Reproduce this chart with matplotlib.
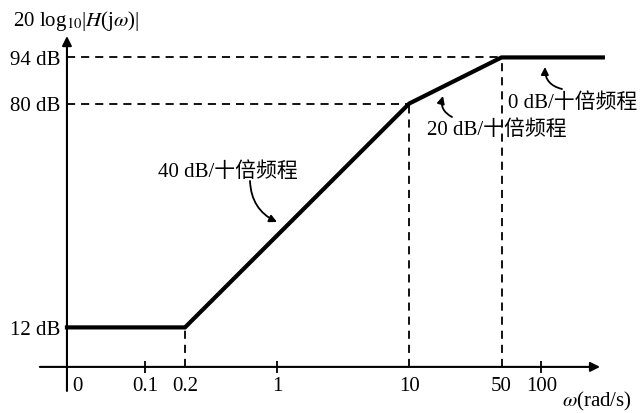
import matplotlib.pyplot as plt

plt.rcParams['font.family'] = ['Liberation Serif', 'Noto Sans CJK SC', 'DejaVu Sans']
plt.rcParams['mathtext.fontset'] = 'stix'

# asymptotic Bode magnitude: corner frequencies (rad/s) and gains (dB)
w_break = [0.2, 10, 50]
gain_db = [12, 80, 94]
x_ticks = [0.1, 0.2, 1, 10, 50, 100]
x_tick_labels = ['0.1', '0.2', '1', '10', '50', '100']
y_marks = [12, 80, 94]
slope_labels = ['40 dB/十倍频程', '20 dB/十倍频程', '0 dB/十倍频程']

W_AXIS = 0.0255   # where the vertical axis sits (labelled "0")
W_END = 293.0
FS = 15

fig = plt.figure(figsize=(6.41, 4.14), dpi=100)
ax = fig.add_axes([0, 0, 1, 1])
ax.set_xscale('log')
ax.set_xlim(0.00793, 570)
ax.set_ylim(-14, 111.75)
ax.axis('off')

# axes with arrows
arr = dict(arrowstyle='-|>', lw=1.5, color='k', mutation_scale=14, shrinkA=0, shrinkB=0)
ax.annotate('', xy=(279, 0), xytext=(0.0159, 0), arrowprops=arr)
ax.annotate('', xy=(W_AXIS, 100.5), xytext=(W_AXIS, -7.3), arrowprops=arr)

# small ticks
ax.vlines([0.1, 1, 100], -1.8, 1.8, color='k', lw=1.3)

# dashed guides
dash = dict(color='k', lw=1.3, linestyles=(0, (4.5, 3.3)))
ax.hlines(gain_db[1:], W_AXIS, w_break[1:], **dash)
ax.vlines(w_break, 0, gain_db, **dash)

# asymptote
ax.plot([W_AXIS] + w_break + [W_END], [gain_db[0]] + gain_db + [gain_db[-1]],
        color='k', lw=3.0, solid_joinstyle='miter')

# tick labels
ax.annotate('0', xy=(W_AXIS, -7.0), xytext=(4, 0), textcoords='offset points',
            ha='left', va='baseline', fontsize=FS)
for w, lab in zip(x_ticks, x_tick_labels):
    ax.text(w, -7.0, lab, ha='center', va='baseline', fontsize=FS)
for v in y_marks:
    ax.annotate(f'{v} dB', xy=(W_AXIS, v), xytext=(-5, -5), textcoords='offset points',
                ha='right', va='baseline', fontsize=FS)

# axis titles
ax.annotate(r'20 log$_{10}$|$H$(j$\omega$)|', xy=(13, 388), xycoords='figure pixels',
            ha='left', va='baseline', fontsize=FS)
ax.annotate(r'$\omega$(rad/s)', xy=(632, 8), xycoords='figure pixels',
            ha='right', va='baseline', fontsize=FS)

# slope labels with curved arrows
text_pos = [(158, 237), (427, 279), (508, 306)]
arrow_pos = [((250, 232), (277, 191), 0.3),
             ((452, 296), (443, 317), -0.4),
             ((562, 324), (545, 346), -0.4)]
for lab, tp, (a0, a1, rad) in zip(slope_labels, text_pos, arrow_pos):
    ax.annotate(lab, xy=tp, xycoords='figure pixels', ha='left', va='baseline', fontsize=FS)
    ax.annotate('', xy=a1, xycoords='figure pixels', xytext=a0, textcoords='figure pixels',
                arrowprops=dict(arrowstyle='-|>', lw=1.3, color='k', mutation_scale=11,
                                shrinkA=0, shrinkB=0, connectionstyle=f'arc3,rad={rad}'))

fig.savefig('out.png', dpi=100)
